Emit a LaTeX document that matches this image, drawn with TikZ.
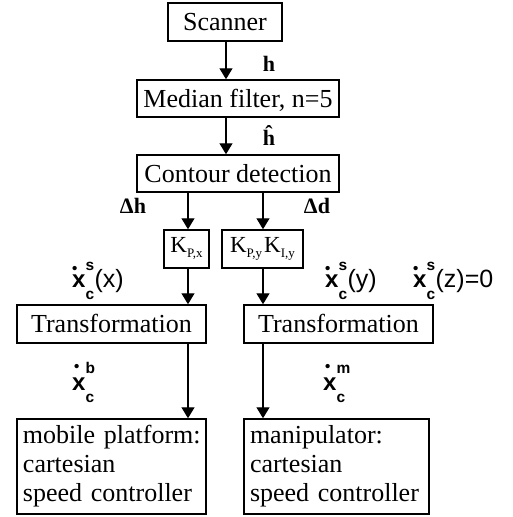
\documentclass[tikz,border=0pt]{standalone}
\usepackage{fontspec}
\setmainfont{Liberation Serif}
\setsansfont{Liberation Sans}
\usetikzlibrary{arrows.meta}
% #1 dot kern, #2 dot raise, #3 sup, #4 sub, #5 rest
\newcommand\xlab[5]{\mbox{\sffamily\bfseries
 \rlap{\kern#1\raisebox{#2}{\fontsize{15}{15}\selectfont\textbullet}}%
 {\fontsize{24}{24}\selectfont x}%
 \rlap{\raisebox{17pt}{\fontsize{15.5}{15.5}\selectfont #3}}%
 \raisebox{-12.5pt}{\fontsize{15.5}{15.5}\selectfont #4}%
 \kern0.5pt{\mdseries\fontsize{25}{25}\selectfont #5}}}
\newcommand\ksub[1]{\raisebox{-5pt}{\fontsize{13}{13}\selectfont #1}}
\begin{document}
\begin{tikzpicture}[x=1pt,y=-1pt,
  box/.style={draw, line width=1.5pt, inner sep=0pt,
    font=\fontsize{26}{29}\selectfont, text height=17.2pt, text depth=0pt},
  kbox/.style={draw, line width=1.5pt, inner sep=0pt,
    font=\fontsize{23}{23}\selectfont, text height=15.2pt, text depth=9pt,
    minimum height=38pt},
  bbox/.style={draw, line width=1.5pt, inner xsep=6pt, inner ysep=0pt,
    font=\fontsize{26}{29}\selectfont, align=left, minimum height=95pt},
  arr/.style={-{Triangle[length=11pt,width=13pt]}, line width=1.4pt},
  serlab/.style={inner sep=0pt, anchor=base, font=\fontsize{22}{22}\selectfont\bfseries},
  xl/.style={inner sep=0pt, anchor=base west}]
\useasboundingbox (0,0) rectangle (512,517);

\node[box, minimum width=114pt, minimum height=38pt] (scan) at (225,22) {Scanner};
\node[box, minimum width=202pt, minimum height=37pt] (med) at (238,98.5) {Median filter, n=5};
\node[box, minimum width=202pt, minimum height=37pt] (cont) at (238,173.5) {Contour detection};
\node[kbox, minimum width=45pt] (kx) at (186.5,249) {K\ksub{P,x}};
\node[kbox, minimum width=81pt] (ky) at (262.5,249) {K\ksub{P,y}\kern2pt K\ksub{I,y}};
\node[box, minimum width=189pt, minimum height=38pt] (tl) at (111.5,324) {Transformation};
\node[box, minimum width=189pt, minimum height=38pt] (tr) at (338.5,324) {Transformation};
\node[bbox, minimum width=189pt, text width=177pt] (bl) at (111.5,466.5) {\mbox{mobile platform:}\\cartesian\\\mbox{speed controller}};
\node[bbox, minimum width=185pt, text width=173pt] (br) at (336.5,466.5) {manipulator:\\cartesian\\\mbox{speed controller}};

\coordinate (xa) at (226,0);
\coordinate (xl) at (188,0);
\coordinate (xr) at (263,0);

\draw[arr] (scan.south -| xa) -- (med.north -| xa);
\draw[arr] (med.south -| xa) -- (cont.north -| xa);
\draw[arr] (cont.south -| xl) -- (kx.north -| xl);
\draw[arr] (cont.south -| xr) -- (ky.north -| xr);
\draw[arr] (kx.south -| xl) -- (tl.north -| xl);
\draw[arr] (ky.south -| xr) -- (tr.north -| xr);
\draw[arr] (tl.south -| xl) -- (bl.north -| xl);
\draw[arr] (tr.south -| xr) -- (br.north -| xr);

\node[serlab] (lh) at (269,71) {h};
\node[serlab] (lhh) at (269,145) {\^{h}};
\node[serlab] (ldh) at (133,213) {Δh};
\node[serlab] (ldd) at (317,213) {Δd};

\node[xl] (lsx) at (72,287) {\xlab{0pt}{13.5pt}{s}{c}{(x)}};
\node[xl] (lsy) at (325,287) {\xlab{0pt}{13.5pt}{s}{c}{(y)}};
\node[xl] (lsz) at (413,287) {\xlab{0pt}{13.5pt}{s}{c}{(z)=0}};
\node[xl] (lb) at (72,390) {\xlab{2pt}{19pt}{b}{c}{}};
\node[xl] (lm) at (323,390) {\xlab{2pt}{19pt}{m}{c}{}};
\end{tikzpicture}
\end{document}
